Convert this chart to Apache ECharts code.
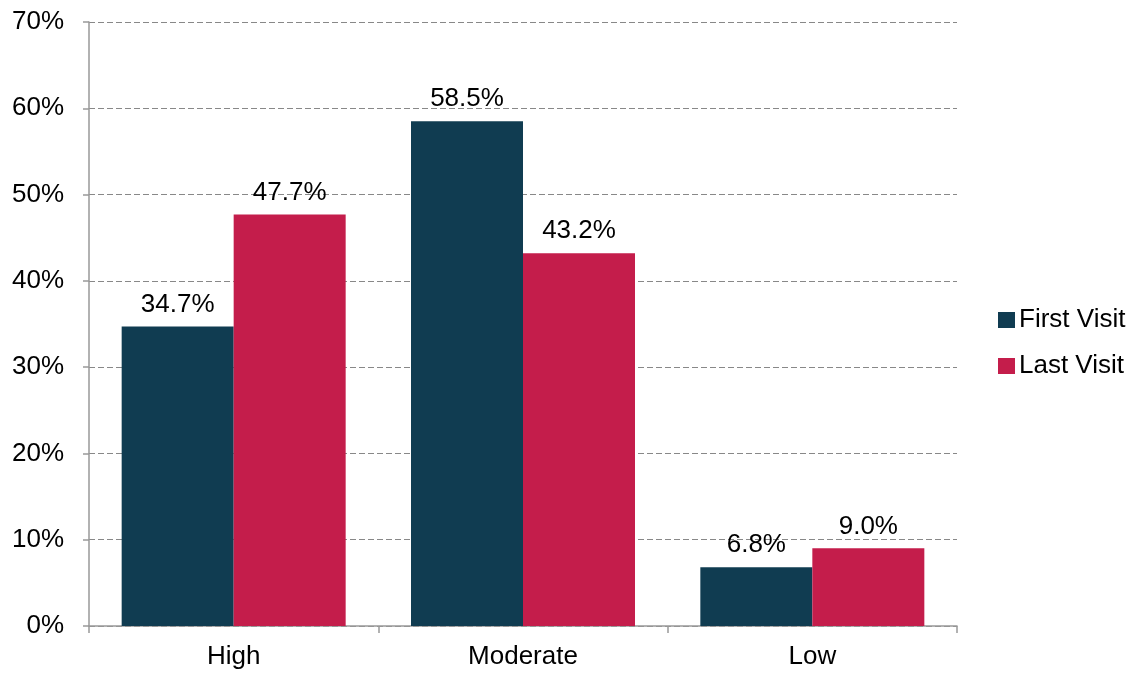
<!DOCTYPE html>
<html>
<head>
<meta charset="utf-8">
<script src="https://cdn.jsdelivr.net/npm/echarts@6/dist/echarts.min.js"></script>
<style>
  html, body { margin: 0; padding: 0; background: #ffffff; }
  #chart { width: 1135px; height: 673px; }
</style>
</head>
<body>
<div id="chart"></div>
<script>
// Engagement level share, first vs last visit
const categories = ['High', 'Moderate', 'Low'];
const firstVisit = [34.7, 58.5, 6.8];
const lastVisit = [47.7, 43.2, 9.0];
const seriesNames = ['First Visit', 'Last Visit'];

const font = '"Liberation Sans", Arial, sans-serif';
const fontSize = 26;
const chart = echarts.init(document.getElementById('chart'));

const labelCfg = {
  show: true,
  position: 'top',
  distance: 9,
  color: '#000',
  fontFamily: font,
  fontSize: fontSize,
  formatter: p => p.value.toFixed(1) + '%'
};

chart.setOption({
  animation: false,
  grid: { left: 89, top: 22, width: 868, height: 604, containLabel: false },
  legend: {
    orient: 'vertical',
    left: 993,
    top: 302,
    itemWidth: 17,
    itemHeight: 16,
    itemGap: 20,
    icon: 'rect',
    textStyle: { fontFamily: font, fontSize: fontSize, color: '#000', padding: [0, 0, 0, -1] },
    data: seriesNames
  },
  xAxis: {
    type: 'category',
    data: categories,
    axisLine: { lineStyle: { color: '#999', width: 1.5 } },
    axisTick: { show: true, alignWithLabel: false, length: 7, lineStyle: { color: '#999', width: 1.5 } },
    axisLabel: { color: '#000', fontFamily: font, fontSize: fontSize, margin: 18 },
    splitLine: { show: false }
  },
  yAxis: {
    type: 'value',
    min: 0,
    max: 70,
    interval: 10,
    axisLine: { show: true, lineStyle: { color: '#999', width: 1.5 } },
    axisTick: { show: true, length: 6, lineStyle: { color: '#999', width: 1.5 } },
    axisLabel: { color: '#000', fontFamily: font, fontSize: fontSize, margin: 25, formatter: v => v + '%' },
    splitLine: { show: true, lineStyle: { color: '#888', type: [6, 3], width: 1 } }
  },
  series: [
    {
      name: seriesNames[0],
      type: 'bar',
      data: firstVisit,
      barWidth: 112,
      barGap: '0%',
      itemStyle: { color: '#103C51' },
      label: labelCfg
    },
    {
      name: seriesNames[1],
      type: 'bar',
      data: lastVisit,
      barWidth: 112,
      barGap: '0%',
      itemStyle: { color: '#C41D4B' },
      label: labelCfg
    }
  ]
});
</script>
</body>
</html>
